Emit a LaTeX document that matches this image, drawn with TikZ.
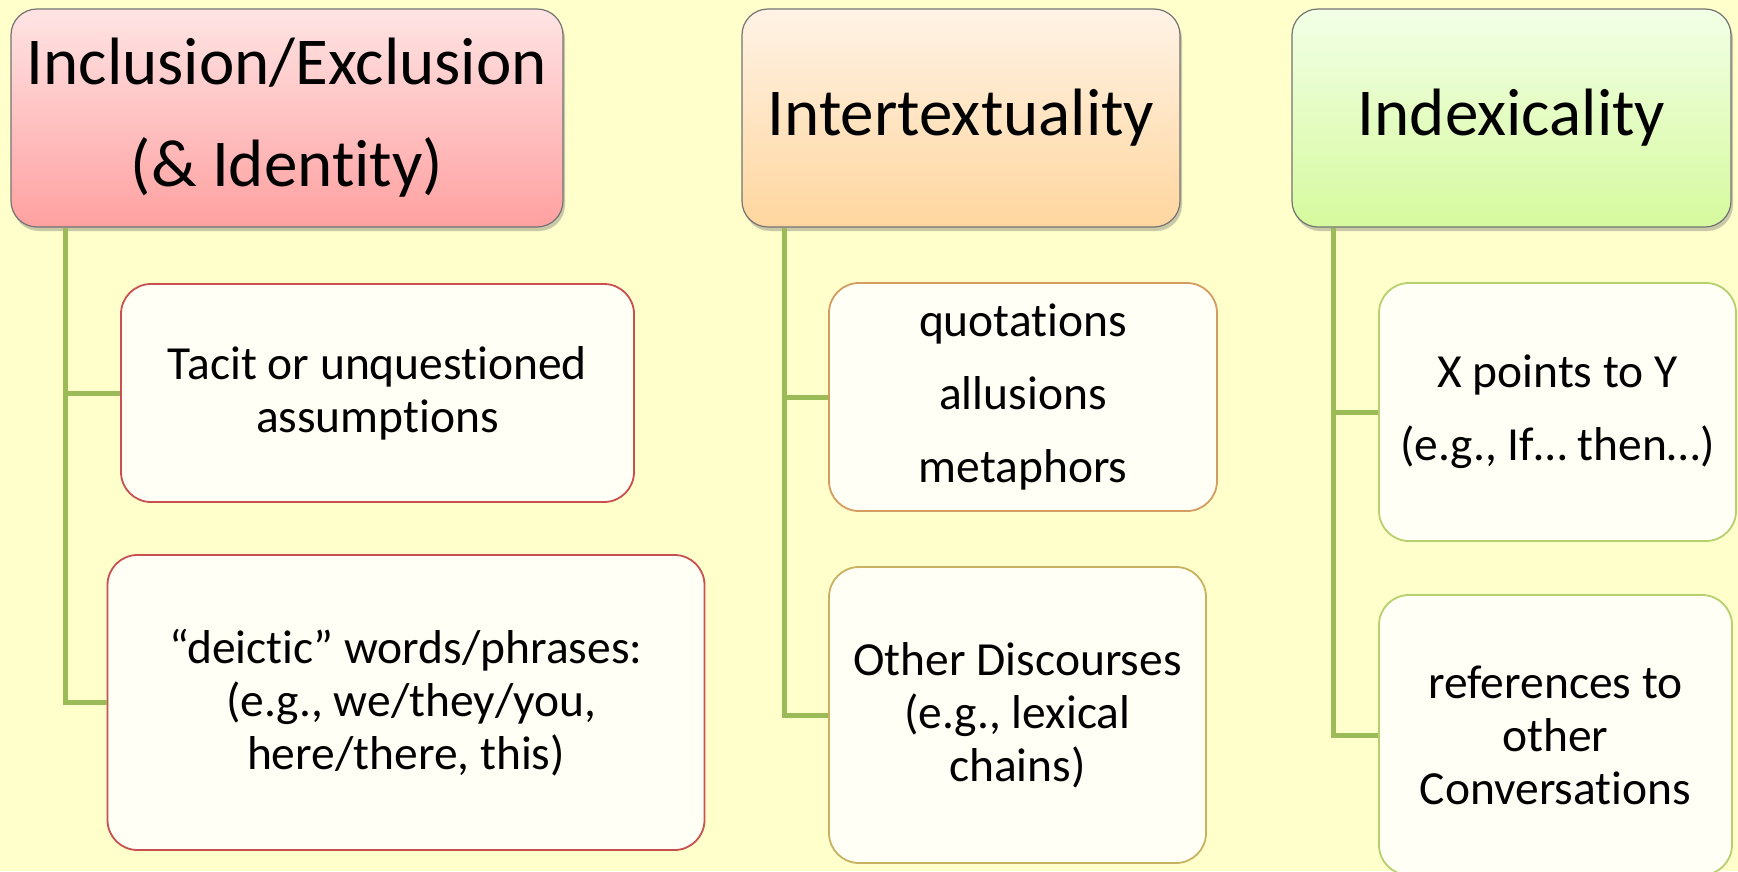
\documentclass[tikz,border=0pt]{standalone}
\usepackage{fontspec}
\setmainfont{Carlito}[Ligatures=NoCommon]
\usetikzlibrary{shadows}
\definecolor{bg}{RGB}{255,255,204}
\definecolor{conn}{RGB}{155,187,89}
\definecolor{hatop}{RGB}{255,228,228}
\definecolor{habot}{RGB}{255,160,160}
\definecolor{hbtop}{RGB}{255,243,230}
\definecolor{hbbot}{RGB}{255,214,158}
\definecolor{hctop}{RGB}{242,255,230}
\definecolor{hcbot}{RGB}{214,250,158}
\definecolor{boxfill}{RGB}{255,255,246}
\definecolor{reda}{RGB}{200,80,80}
\definecolor{orb}{RGB}{212,156,96}
\definecolor{tanb}{RGB}{200,178,96}
\definecolor{grc}{RGB}{182,208,110}
\tikzset{
  x=1pt, y=-1pt,
  header/.style={draw=black!55, line width=1.2pt, rounded corners=26pt,
    drop shadow={shadow xshift=2pt, shadow yshift=-4pt, opacity=0.35, fill=black!60},
    align=center, inner sep=0pt, font=\fontsize{67}{102}\selectfont},
  child/.style={fill=boxfill, line width=1.8pt, rounded corners=30pt,
    align=center, inner sep=0pt, font=\fontsize{47.5}{53}\selectfont},
  link/.style={draw=conn, line width=5pt}
}
\begin{document}
\begin{tikzpicture}
\fill[bg] (0,0) rectangle (1738,871);
\useasboundingbox (0,0) rectangle (1738,871);

% headers
\node[header, top color=hatop, bottom color=habot, minimum width=552pt, minimum height=218pt]
  (h1) at (287,118) {Inclusion/Exclusion\\(\& Identity)};
\node[header, top color=hbtop, bottom color=hbbot, minimum width=438pt, minimum height=218pt]
  (h2) at (961,118) {Intertextuality};
\node[header, top color=hctop, bottom color=hcbot, minimum width=439pt, minimum height=218pt]
  (h3) at (1511.5,118) {Indexicality};

% children
\node[child, draw=reda, minimum width=513pt, minimum height=218pt]
  (b1a) at (377.5,393) {Tacit or unquestioned\\assumptions};
\node[child, draw=reda, minimum width=597pt, minimum height=295pt]
  (b1b) at (406,702.5) {“deictic” words/phrases:\\\ (e.g., we/they/you,\\here/there, this)};
\node[child, draw=orb, minimum width=388pt, minimum height=228pt,
  font=\fontsize{47.5}{72.6}\selectfont]
  (b2a) at (1023,397) {quotations\\allusions\\metaphors};
\node[child, draw=tanb, minimum width=377pt, minimum height=296pt]
  (b2b) at (1017.5,715) {Other Discourses\\(e.g., lexical\\chains)};
\node[child, draw=grc, minimum width=357pt, minimum height=258pt,
  font=\fontsize{47.5}{73}\selectfont]
  (b3a) at (1557.5,412) {X points to Y\\(e.g., If… then…)};
\node[child, draw=grc, minimum width=353pt, minimum height=280pt]
  (b3b) at (1555.5,735) {references to\\other\\Conversations};

% connectors
\draw[link] ([xshift=55.5pt]h1.south west) |- (b1a.west);
\draw[link] ([xshift=55.5pt]h1.south west) |- (b1b.west);
\draw[link] ([xshift=43pt]h2.south west) |- (b2a.west);
\draw[link] ([xshift=43pt]h2.south west) |- (b2b.west);
\draw[link] ([xshift=42.5pt]h3.south west) |- (b3a.west);
\draw[link] ([xshift=42.5pt]h3.south west) |- (b3b.west);
\end{tikzpicture}
\end{document}
